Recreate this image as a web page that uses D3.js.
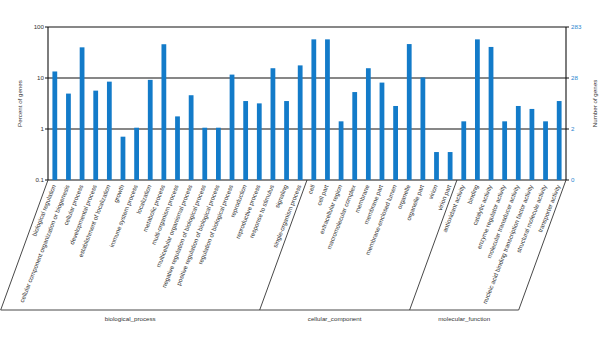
<!DOCTYPE html>
<html>
<head>
<meta charset="utf-8">
<script src="https://cdn.jsdelivr.net/npm/d3@7"></script>
<style>
  body { margin: 0; background: #fff; }
  text { font-family: "Liberation Sans", Arial, sans-serif; }
</style>
</head>
<body>
<svg id="chart" width="600" height="357"></svg>
<script>
// ---- data ----
const categories = [
  "biological regulation", "cellular component organization or biogenesis", "cellular process",
  "developmental process", "establishment of localization", "growth", "immune system process",
  "localization", "metabolic process", "multi-organism process", "multicellular organismal process",
  "negative regulation of biological process", "positive regulation of biological process",
  "regulation of biological process", "reproduction", "reproductive process", "response to stimulus",
  "signaling", "single-organism process",
  "cell", "cell part", "extracellular region", "macromolecular complex", "membrane", "membrane part",
  "membrane-enclosed lumen", "organelle", "organelle part", "virion", "virion part",
  "antioxidant activity", "binding", "catalytic activity", "enzyme regulator activity",
  "molecular transducer activity", "nucleic acid binding transcription factor activity",
  "structural molecule activity", "transporter activity"
];
const geneCounts = [
  38, 14, 113, 16, 24, 2, 3, 26, 130, 5, 13,
  3, 3, 33, 10, 9, 44, 10, 50,
  162, 162, 4, 15, 44, 23, 8, 131, 29, 1, 1,
  4, 162, 115, 4, 8, 7, 4, 10
];
const totalGenes = 283;
const groupNames = ["biological_process", "cellular_component", "molecular_function"];
const groupSizes = [19, 11, 8];
const leftTickValues = [0.1, 1, 10, 100];
const leftTickLabels = ["0.1", "1", "10", "100"];
const rightTickLabels = ["0", "2", "28", "283"];

// ---- layout ----
const svg = d3.select("#chart");
const plotLeft = 48, plotRight = 566, plotTop = 27, plotBottom = 180;
const barColor = "#137bc9";
const textColor = "#333";
const fs = 6.2;

const x = d3.scaleBand().domain(categories).range([plotLeft, plotRight]).paddingInner(0.65).paddingOuter(0.325);
const y = d3.scaleLog().domain([0.1, 100]).range([plotBottom, plotTop]);

// gridlines at each decade
svg.append("g").selectAll("line").data(leftTickValues).join("line")
  .attr("x1", plotLeft - 3).attr("x2", plotRight + 3)
  .attr("y1", d => y(d)).attr("y2", d => y(d))
  .attr("stroke", "#111").attr("stroke-width", 1.1);

// bars
svg.append("g").selectAll("rect").data(categories).join("rect")
  .attr("x", d => x(d))
  .attr("width", x.bandwidth())
  .attr("y", (d, i) => y(geneCounts[i] / totalGenes * 100))
  .attr("height", (d, i) => plotBottom - y(geneCounts[i] / totalGenes * 100))
  .attr("fill", barColor);

// left and right axis lines
svg.append("line").attr("x1", plotLeft).attr("x2", plotLeft).attr("y1", plotTop).attr("y2", plotBottom)
  .attr("stroke", "#111").attr("stroke-width", 1.1);
svg.append("line").attr("x1", plotRight).attr("x2", plotRight).attr("y1", plotTop).attr("y2", plotBottom)
  .attr("stroke", "#111").attr("stroke-width", 1.1);

// left tick labels
svg.append("g").selectAll("text").data(leftTickValues).join("text")
  .attr("x", plotLeft - 4).attr("y", d => y(d)).attr("dy", "0.35em")
  .attr("text-anchor", "end").attr("font-size", fs).attr("fill", textColor)
  .text((d, i) => leftTickLabels[i]);

// right tick labels
svg.append("g").selectAll("text").data(leftTickValues).join("text")
  .attr("x", plotRight + 5).attr("y", d => y(d)).attr("dy", "0.35em")
  .attr("text-anchor", "start").attr("font-size", fs).attr("fill", "#2a86cf")
  .text((d, i) => rightTickLabels[i]);

// axis titles
svg.append("text").attr("transform", `translate(22,${(plotTop + plotBottom) / 2}) rotate(-90)`)
  .attr("text-anchor", "middle").attr("font-size", fs).attr("fill", textColor)
  .text("Percent of genes");
svg.append("text").attr("transform", `translate(597,${(plotTop + plotBottom) / 2}) rotate(-90)`)
  .attr("text-anchor", "middle").attr("font-size", fs).attr("fill", textColor)
  .text("Number of genes");

// category labels
const angle = 70;
const labelAngle = 68.5;
svg.append("g").selectAll("text").data(categories).join("text")
  .attr("transform", d => `translate(${x(d) + x.bandwidth() / 2 - 0.8},${plotBottom + 5}) rotate(${-labelAngle})`)
  .attr("dy", "0.35em")
  .attr("text-anchor", "end").attr("font-size", fs).attr("fill", textColor)
  .text(d => d);

// group brackets
const baseY = 310;
const shift = (baseY - plotBottom) / Math.tan(angle * Math.PI / 180);
const step = x.step();
let idx = 0;
const bounds = [plotLeft];
groupSizes.forEach(n => { idx += n; bounds.push(idx === categories.length ? plotRight : plotLeft + step * idx); });
const g = svg.append("g");
bounds.forEach(bx => {
  g.append("line").attr("x1", bx).attr("y1", plotBottom).attr("x2", bx - shift).attr("y2", baseY)
    .attr("stroke", "#333").attr("stroke-width", 0.9);
});
g.append("line").attr("x1", bounds[0] - shift).attr("x2", bounds[bounds.length - 1] - shift)
  .attr("y1", baseY).attr("y2", baseY).attr("stroke", "#333").attr("stroke-width", 0.9);
groupNames.forEach((name, i) => {
  g.append("text").attr("x", (bounds[i] + bounds[i + 1]) / 2 - shift).attr("y", baseY + 11)
    .attr("text-anchor", "middle").attr("font-size", fs).attr("fill", textColor).text(name);
});
</script>
</body>
</html>
